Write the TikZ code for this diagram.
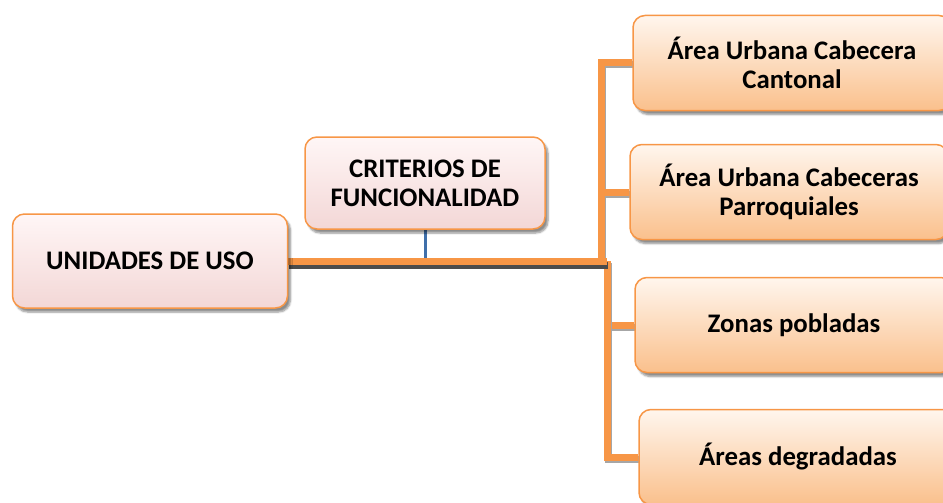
\documentclass[tikz,border=0pt]{standalone}
\usepackage{fontspec}
\setmainfont{Carlito}
\usetikzlibrary{shadows.blur,backgrounds}
\definecolor{orng}{HTML}{F79646}
\definecolor{pinktop}{HTML}{FFF6F6}
\definecolor{pinkbot}{HTML}{F3D7D6}
\definecolor{peachtop}{HTML}{FFF6EE}
\definecolor{peachbot}{HTML}{FAC08C}
\definecolor{bluel}{HTML}{3F6FAA}
\begin{document}
\begin{tikzpicture}[x=1pt,y=-1pt,
  box/.style={draw=orng, line width=1.5pt, rounded corners=12pt, align=center,
    font=\fontsize{26.8}{29}\selectfont\bfseries, inner sep=0pt,
    blur shadow={shadow xshift=3pt, shadow yshift=-4pt, shadow blur steps=6, shadow opacity=45}},
  pinkbox/.style={box, top color=pinktop, bottom color=pinkbot},
  peachbox/.style={box, top color=peachtop, bottom color=peachbot, minimum width=318pt, minimum height=95pt},
  conn/.style={orng, line width=7pt,
    preaction={draw=black!35, line width=7pt, transform canvas={shift={(1.5pt,-2pt)}}}},
  mainconn/.style={orng, line width=7pt,
    preaction={draw=black!70, line width=7pt, transform canvas={shift={(1pt,-4pt)}}}},
  blueline/.style={bluel, line width=3pt}
]
\useasboundingbox (0,0) rectangle (943,503);
\node[pinkbox, minimum width=275pt, minimum height=94pt] (uso) at (150,261) {UNIDADES DE USO};
\node[pinkbox, minimum width=240pt, minimum height=92pt] (crit) at (425,183) {CRITERIOS DE\\FUNCIONALIDAD};
\node[peachbox] (a1) at (792,63) {Área Urbana Cabecera\\Cantonal};
\node[peachbox] (a2) at (789,192) {Área Urbana Cabeceras\\Parroquiales};
\node[peachbox] (a3) at (794,325) {Zonas pobladas};
\node[peachbox] (a4) at (798,457) {Áreas degradadas};
\coordinate (ju) at (601,261);
\coordinate (jd) at (607,261);
\begin{pgfonlayer}{background}
\draw[blueline] (crit.south) -- (crit.south |- ju);
\draw[conn] (ju) |- (a1.west);
\draw[conn] (ju) |- (a2.west);
\draw[conn] (jd) |- (a3.west);
\draw[conn] (jd) |- (a4.west);
\draw[mainconn] (uso.east) -- (jd);
\end{pgfonlayer}
\end{tikzpicture}
\end{document}
